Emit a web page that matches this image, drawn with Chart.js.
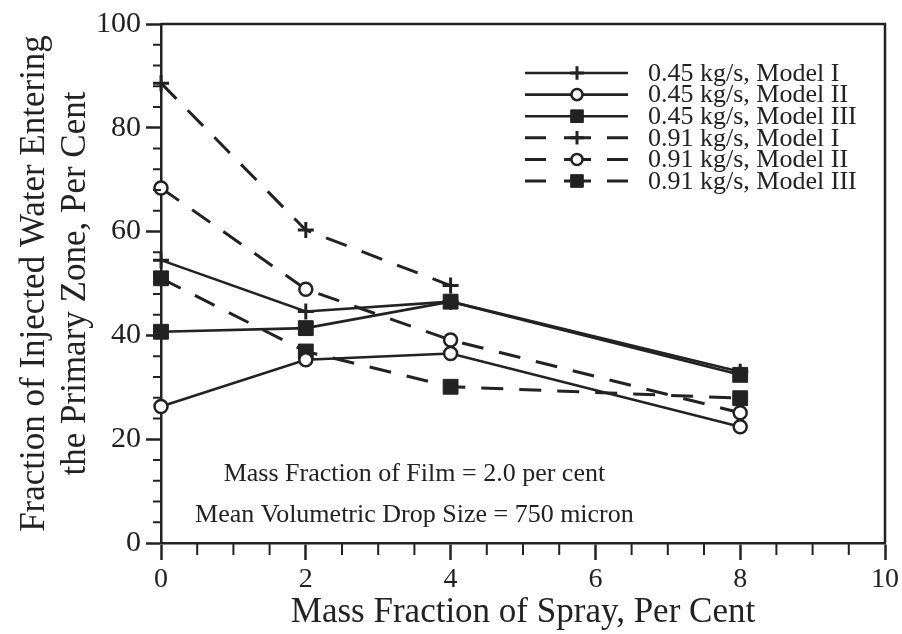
<!DOCTYPE html>
<html>
<head>
<meta charset="utf-8">
<script src="https://cdn.jsdelivr.net/npm/chart.js@4.4.1/dist/chart.umd.min.js"></script>
<style>
  html, body { margin: 0; padding: 0; background: #fff; }
  canvas { display: block; }
</style>
</head>
<body>
<canvas id="fig" width="902" height="634"></canvas>
<script>
// values (per cent)
const sprayFraction = [0, 2, 4, 8];
const model1Low  = [54.5, 44.6, 46.5, 33.0];
const model2Low  = [26.3, 35.3, 36.5, 22.4];
const model3Low  = [40.7, 41.4, 46.5, 32.4];
const model1High = [88.6, 60.3, 49.6, null]; // no separate 8% point visible
const model2High = [68.4, 48.9, 39.1, 25.1];
const model3High = [51.0, 36.9, 30.1, 27.9];

const seriesNames = [
  "0.45 kg/s, Model I",
  "0.45 kg/s, Model II",
  "0.45 kg/s, Model III",
  "0.91 kg/s, Model I",
  "0.91 kg/s, Model II",
  "0.91 kg/s, Model III"
];
const xTicks = [0, 2, 4, 6, 8, 10];
const yTicks = [0, 20, 40, 60, 80, 100];
const notes = ["Mass Fraction of Film = 2.0 per cent", "Mean Volumetric Drop Size = 750 micron"];

const ink = "#222";
const serif = "'Liberation Serif', 'Times New Roman', serif";

const markers = {
  cross:  { pointStyle: "cross",  pointRadius: 8,    pointBorderWidth: 3,   pointBackgroundColor: ink },
  circle: { pointStyle: "circle", pointRadius: 6.5,  pointBorderWidth: 2.5, pointBackgroundColor: "#fff" },
  rect:   { pointStyle: "rect",   pointRadius: 10.5, pointBorderWidth: 1,   pointBackgroundColor: ink }
};

function series(name, values, dashed, marker) {
  return Object.assign({
    label: name,
    data: sprayFraction.map((x, i) => ({ x: x, y: values[i] })),
    borderColor: ink,
    pointBorderColor: ink,
    borderWidth: dashed ? 3 : 2.6,
    borderDash: dashed ? [22, 16] : [],
    tension: 0,
    clip: false,
    dashed: dashed
  }, markers[marker]);
}

const datasets = [
  series(seriesNames[0], model1Low, false, "cross"),
  series(seriesNames[1], model2Low, false, "circle"),
  series(seriesNames[2], model3Low, false, "rect"),
  series(seriesNames[3], model1High, true, "cross"),
  series(seriesNames[4], model2High, true, "circle"),
  series(seriesNames[5], model3High, true, "rect")
];

// frame, minor ticks, notes and the line-sample legend
const paperDecor = {
  id: "paperDecor",
  afterDraw(chart) {
    const ctx = chart.ctx;
    const a = chart.chartArea;
    const xs = chart.scales.x, ys = chart.scales.y;
    ctx.save();
    ctx.strokeStyle = ink;
    ctx.lineWidth = 2.5;
    ctx.beginPath();
    ctx.moveTo(a.left, a.top);
    ctx.lineTo(a.right, a.top);
    ctx.lineTo(a.right, a.bottom);
    ctx.stroke();

    ctx.lineWidth = 2;
    ctx.beginPath();
    for (let v = 0; v <= 100; v += 4) {
      if (v % 20 === 0) continue;
      const y = ys.getPixelForValue(v);
      ctx.moveTo(a.left - 8, y);
      ctx.lineTo(a.left, y);
    }
    for (let v = 0; v <= 10; v += 0.5) {
      if (v % 2 === 0) continue;
      const x = xs.getPixelForValue(v);
      ctx.moveTo(x, a.bottom);
      ctx.lineTo(x, a.bottom + 12);
    }
    ctx.stroke();

    ctx.fillStyle = ink;
    ctx.font = "26px " + serif;
    ctx.textAlign = "center";
    ctx.textBaseline = "middle";
    ctx.fillText(notes[0], xs.getPixelForValue(3.5), ys.getPixelForValue(13.3));
    ctx.fillText(notes[1], xs.getPixelForValue(3.5), ys.getPixelForValue(5.4));

    const lx0 = 525, lx1 = 628, mx = 577, ly = 73, row = 21.6;
    ctx.font = "26px " + serif;
    ctx.textAlign = "left";
    chart.data.datasets.forEach((ds, i) => {
      const y = ly + i * row;
      ctx.strokeStyle = ink;
      ctx.lineWidth = ds.borderWidth;
      ctx.beginPath();
      if (ds.dashed) {
        ctx.moveTo(lx0, y); ctx.lineTo(lx0 + 21, y);
        ctx.moveTo(mx - 13, y); ctx.lineTo(mx + 14, y);
        ctx.moveTo(lx1 - 21, y); ctx.lineTo(lx1, y);
      } else {
        ctx.moveTo(lx0, y); ctx.lineTo(lx1, y);
      }
      ctx.stroke();
      ctx.fillStyle = ds.pointBackgroundColor;
      ctx.lineWidth = ds.pointBorderWidth;
      Chart.helpers.drawPoint(ctx, {
        pointStyle: ds.pointStyle,
        radius: ds.pointRadius * 0.85,
        borderWidth: ds.pointBorderWidth,
        rotation: 0
      }, mx, y);
      ctx.fillStyle = ink;
      ctx.fillText(ds.label, 648, y + 1);
    });
    ctx.restore();
  }
};

new Chart(document.getElementById("fig"), {
  type: "line",
  data: { datasets: datasets },
  plugins: [paperDecor],
  options: {
    responsive: false,
    devicePixelRatio: 1,
    animation: false,
    spanGaps: false,
    layout: { padding: { left: 0, right: 17, top: 24, bottom: 0 } },
    plugins: { legend: { display: false }, tooltip: { enabled: false } },
    scales: {
      x: {
        type: "linear",
        min: 0,
        max: 10,
        afterBuildTicks(s) { s.ticks = xTicks.map(v => ({ value: v })); },
        afterFit(s) { s.height = 91; },
        ticks: { color: ink, font: { family: serif, size: 28 }, padding: 3, maxRotation: 0 },
        grid: { drawOnChartArea: false, tickLength: 17, tickWidth: 2.5, tickColor: ink },
        border: { color: ink, width: 2.5 },
        title: {
          display: true,
          text: "Mass Fraction of Spray, Per Cent",
          color: ink,
          font: { family: serif, size: 35, lineHeight: 1.1 },
          padding: { top: 0, bottom: 2 }
        }
      },
      y: {
        min: 0,
        max: 100,
        afterBuildTicks(s) { s.ticks = yTicks.map(v => ({ value: v })); },
        afterFit(s) { s.width = 161; },
        ticks: { color: ink, font: { family: serif, size: 30 }, padding: 5 },
        grid: { drawOnChartArea: false, tickLength: 15, tickWidth: 2.5, tickColor: ink },
        border: { color: ink, width: 2.5 },
        title: {
          display: true,
          text: ["Fraction of Injected Water Entering", "the Primary Zone, Per Cent"],
          color: ink,
          font: { family: serif, size: 35, lineHeight: 1.15 },
          padding: { top: 15, bottom: 0 }
        }
      }
    }
  }
});
</script>
</body>
</html>
